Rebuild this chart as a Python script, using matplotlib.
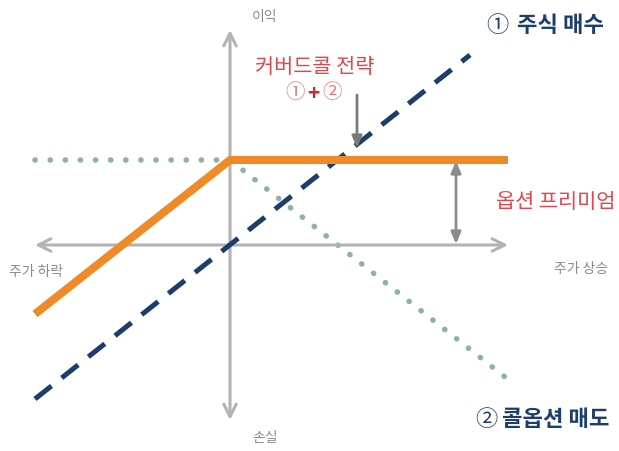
import matplotlib.pyplot as plt

plt.rcParams['font.family'] = ['Noto Sans CJK KR', 'DejaVu Sans']

# payoff data (price change vs profit/loss)
premium = 8.5
stock_x = [-19.5, 24.0]
stock_y = [-15.4, 19.0]
call_x = [-19.5, 0.0, 27.5]
call_y = [8.5, 8.5, -13.2]
covered_x = [-19.5, 0.0, 27.8]
covered_y = [-6.9, 8.5, 8.5]

navy = '#1d3e6a'
orange = '#f08a26'
dotc = '#8fb2a8'
red = '#e0474c'
axc = '#b3b3b3'

fig = plt.figure(figsize=(6.19, 4.51), dpi=100)
ax = fig.add_axes([0, 0, 1, 1])
ax.set_xlim(-23, 38.9)
ax.set_ylim(-20.6, 24.5)
ax.axis('off')

# axes with open arrowheads
ax.annotate('', xy=(0, 21.5), xytext=(0, -17.5),
            arrowprops=dict(arrowstyle='<->,head_length=0.9,head_width=0.45',
                            color=axc, lw=2.2, shrinkA=0, shrinkB=0))
ax.annotate('', xy=(27.8, 0), xytext=(-19.5, 0),
            arrowprops=dict(arrowstyle='<->,head_length=0.9,head_width=0.45',
                            color=axc, lw=2.2, shrinkA=0, shrinkB=0))

ax.plot(call_x, call_y, color=dotc, lw=4, linestyle=(0, (0.05, 2.67)),
        solid_capstyle='round', dash_capstyle='round', zorder=2)
ax.plot(stock_x, stock_y, color=navy, lw=3.6, linestyle=(0, (4.2, 2.6)),
        dash_capstyle='butt', zorder=3)
ax.plot(covered_x, covered_y, color=orange, lw=5.8, solid_capstyle='butt',
        solid_joinstyle='miter', zorder=4)

# premium arrow
ax.annotate('', xy=(22.6, premium - 0.1), xytext=(22.6, 0.1),
            arrowprops=dict(arrowstyle='<|-|>,head_length=0.7,head_width=0.3',
                            color='#8c8c8c', lw=2, shrinkA=0, shrinkB=0))
# pointer to covered call
ax.annotate('', xy=(12.7, 9.7), xytext=(12.7, 15.0),
            arrowprops=dict(arrowstyle='-|>,head_length=0.7,head_width=0.3',
                            color='#7a7a7a', lw=2, shrinkA=0, shrinkB=0))

ax.text(3.5, 22.8, '이익', color='#8a8a8a', fontsize=10, ha='center', va='center')
ax.text(3.5, -19.3, '손실', color='#8a8a8a', fontsize=10, ha='center', va='center')
ax.text(-19.4, -2.7, '주가 하락', color='#8a8a8a', fontsize=10, ha='center', va='center')
ax.text(35.1, -2.4, '주가 상승', color='#8a8a8a', fontsize=10, ha='center', va='center')
ax.text(32.6, 4.3, '옵션 프리미엄', color=red, fontsize=15, ha='center', va='center')
ax.text(8.5, 17.8, '커버드콜 전략', color=red, fontsize=15, ha='center', va='center')
ax.text(6.5, 15.2, '①', color='#e5777a', fontsize=14, ha='center', va='center')
ax.text(8.35, 15.2, '+', color='#d42a2e', fontsize=15, fontweight='bold',
        ha='center', va='center')
ax.text(10.2, 15.2, '②', color='#e5777a', fontsize=14, ha='center', va='center')

ax.text(25.6, 21.9, '①', color=navy, fontsize=16, ha='left', va='center')
ax.text(28.7, 21.9, '주식 매수', color=navy, fontsize=16, fontweight='bold',
        ha='left', va='center')
ax.text(24.5, -17.5, '②', color=navy, fontsize=16, ha='left', va='center')
ax.text(27.2, -17.5, '콜옵션 매도', color=navy, fontsize=16, fontweight='bold',
        ha='left', va='center')

fig.savefig('out.png', dpi=100)
